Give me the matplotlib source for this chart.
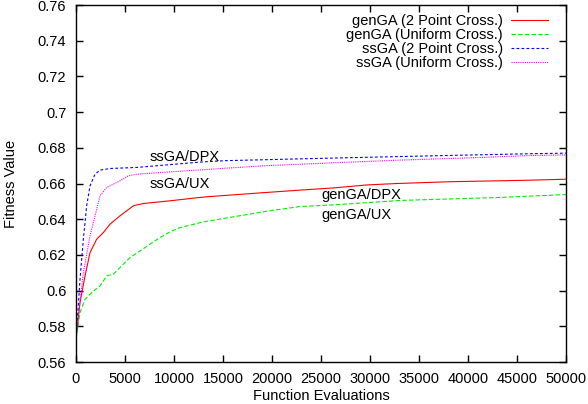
import matplotlib
matplotlib.use("Agg")
import matplotlib.pyplot as plt

plt.rcParams['font.family'] = ['Liberation Sans', 'DejaVu Sans']

# Function evaluations / fitness values
gen_dpx_x = [0, 410, 920, 1430, 2110, 2790, 3470, 4490, 5170, 5850, 6870, 9590,
             12650, 13670, 19490, 22860, 26220, 29690, 32760, 38160, 45900, 50000]
gen_dpx_y = [0.5727, 0.5933, 0.6082, 0.6213, 0.6288, 0.6325, 0.6372, 0.6419, 0.6447,
             0.6475, 0.6488, 0.6503, 0.6522, 0.6527, 0.6550, 0.6563, 0.6575, 0.6592,
             0.6600, 0.6610, 0.6618, 0.6624]

gen_ux_x = [0, 410, 920, 1770, 2450, 3130, 3810, 4490, 5510, 6530, 7550, 8570, 9590,
            10610, 11630, 12990, 19490, 22860, 26220, 33060, 43270, 50000]
gen_ux_y = [0.5727, 0.5877, 0.5951, 0.5998, 0.6026, 0.6082, 0.6092, 0.6129, 0.6185,
            0.6222, 0.6260, 0.6297, 0.6329, 0.6353, 0.6366, 0.6385, 0.6445, 0.6471,
            0.6480, 0.6505, 0.6522, 0.6538]

ss_dpx_x = [0, 410, 750, 1090, 1430, 1940, 2450, 3470, 6190, 12650, 15300, 22860,
            30600, 38800, 46600, 50000]
ss_dpx_y = [0.5720, 0.6064, 0.6288, 0.6475, 0.6587, 0.6652, 0.6675, 0.6684, 0.6690,
            0.6720, 0.6728, 0.6738, 0.6748, 0.6758, 0.6767, 0.6770]

ss_ux_x = [0, 750, 1430, 1940, 2450, 3130, 3810, 4490, 5340, 6190, 9590, 13670,
           19460, 26220, 33060, 40800, 46600, 50000]
ss_ux_y = [0.5750, 0.6100, 0.6307, 0.6419, 0.6531, 0.6578, 0.6596, 0.6615, 0.6643,
           0.6652, 0.6665, 0.6680, 0.6700, 0.6716, 0.6731, 0.6745, 0.6757, 0.6760]

series_labels = ['genGA (2 Point Cross.)', 'genGA (Uniform Cross.)',
                 'ssGA (2 Point Cross.)', 'ssGA (Uniform Cross.)']

# annotations: text, x, y
notes = [('ssGA/DPX', 7550, 0.675), ('ssGA/UX', 7550, 0.660),
         ('genGA/DPX', 25000, 0.6535), ('genGA/UX', 25000, 0.6425)]

fs = 10.5

fig = plt.figure(figsize=(5.88, 4.04), dpi=100)
ax = fig.add_axes([76/588, 42/404, 490/588, 357/404])

ax.plot(gen_dpx_x, gen_dpx_y, color='#ff0000', lw=0.8, ls='-', label=series_labels[0])
ax.plot(gen_ux_x, gen_ux_y, color='#00ee00', lw=0.8, ls=(0, (4, 2)), label=series_labels[1])
ax.plot(ss_dpx_x, ss_dpx_y, color='#0000ff', lw=0.8, ls=(0, (2.5, 2)), label=series_labels[2])
ax.plot(ss_ux_x, ss_ux_y, color='#ff00ff', lw=0.8, ls=(0, (1, 1)), label=series_labels[3])

for txt, x, y in notes:
    ax.text(x, y, txt, fontsize=fs, va='center', ha='left')

ax.set_xlim(0, 50000)
ax.set_ylim(0.56, 0.76)
ax.set_xticks(range(0, 50001, 5000))
ax.set_yticks([0.56 + 0.02 * i for i in range(11)])
ax.set_yticklabels(['0.56', '0.58', '0.6', '0.62', '0.64', '0.66', '0.68', '0.7',
                    '0.72', '0.74', '0.76'])
ax.tick_params(direction='in', top=True, right=True, length=5, width=1,
               labelsize=fs)
ax.tick_params(axis='x', pad=7)
ax.tick_params(axis='y', pad=7)
for s in ax.spines.values():
    s.set_linewidth(1)

ax.set_xlabel('Function Evaluations', fontsize=fs, labelpad=2)
ax.set_ylabel('Fitness Value', fontsize=fs, labelpad=14)

ax.legend(loc='upper right', bbox_to_anchor=(0.963, 0.975), markerfirst=False,
          frameon=False, fontsize=fs, handlelength=2.5, handletextpad=0.6,
          labelspacing=0.0, borderpad=0, borderaxespad=0)

fig.savefig('out.png', dpi=100)
